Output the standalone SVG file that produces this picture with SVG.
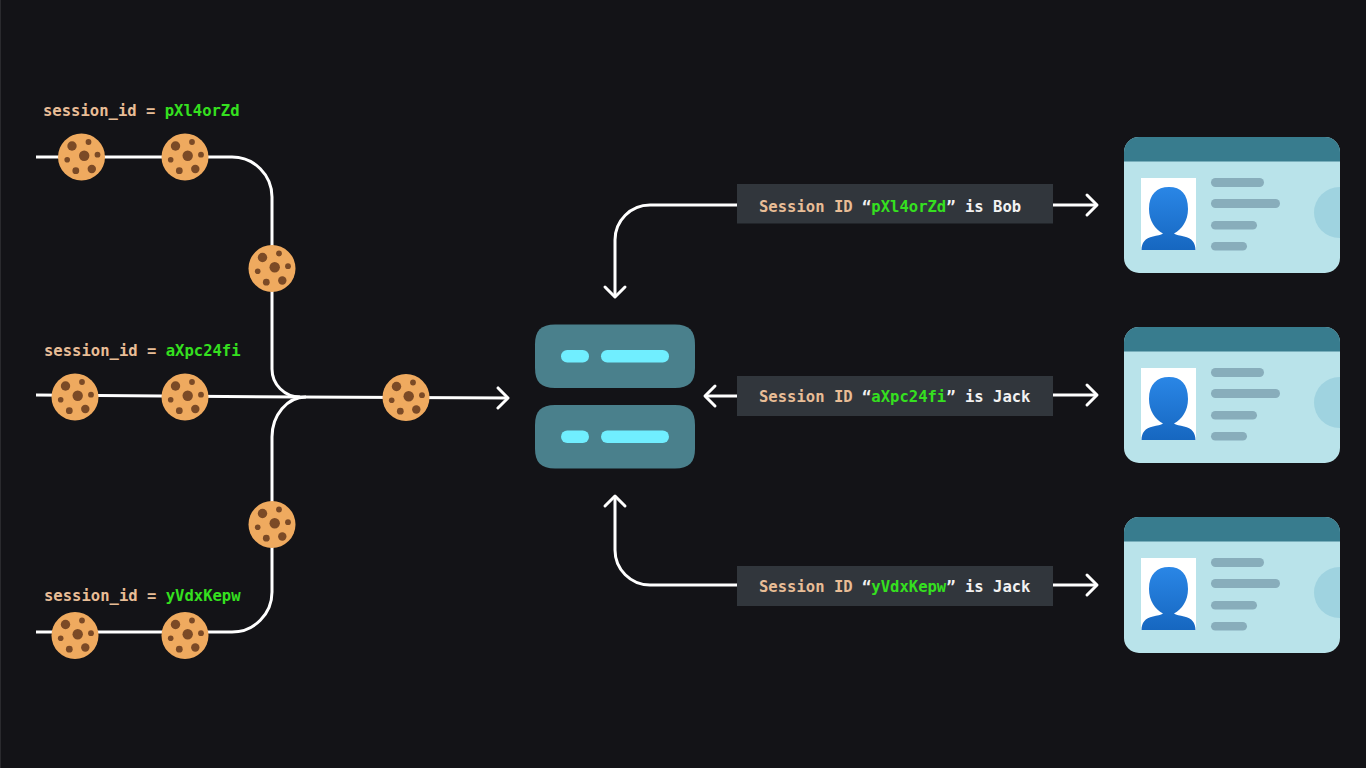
<svg xmlns="http://www.w3.org/2000/svg" width="1366" height="768" viewBox="0 0 1366 768">
<style>
text{font-family:"DejaVu Sans Mono","Liberation Mono",monospace;font-weight:700;font-size:15.55px}
.k{fill:#e8bd96}.g{fill:#35e01f}.w{fill:#f2f2f2}
.ln{fill:none;stroke:#fff;stroke-width:3}
.lb{fill:#31363c}
</style>
<defs>
<marker id="ah" markerUnits="userSpaceOnUse" markerWidth="26" markerHeight="26" refX="15" refY="13" orient="auto">
<path d="M5 3L15 13L5 23" fill="none" stroke="#fff" stroke-width="3" stroke-linecap="round" stroke-linejoin="round"/>
</marker>
<g id="cookie">
<circle r="23.5" fill="#efaa5f"/>
<g fill="#7b4a26">
<circle cx="-9.5" cy="-11" r="4.700"/><circle cx="7" cy="-15" r="2.900"/><circle cx="2.700" cy="-1.300" r="5.200"/><circle cx="16" cy="-2.300" r="2.900"/><circle cx="-14.300" cy="2.700" r="2.800"/><circle cx="-5.700" cy="13.700" r="3.400"/><circle cx="10.300" cy="12" r="4.200"/>
</g>
</g>
<clipPath id="cc"><rect width="216" height="136" rx="15"/></clipPath>
<linearGradient id="pg" x1="0" y1="0" x2="0" y2="1"><stop offset="0" stop-color="#2a86e6"/><stop offset="1" stop-color="#1667c0"/></linearGradient>
<g id="card">
<g clip-path="url(#cc)">
<rect width="216" height="136" fill="#b9e3ea"/>
<rect width="216" height="24.500" fill="#387c8e"/>
<circle cx="215.500" cy="75.500" r="25.500" fill="#9fd3e0"/>
</g>
<rect x="17" y="41" width="55" height="72" fill="#fff"/>
<path d="M45 50C33 50 25 57 25 72C25 84 31 92 39 96.500C37 98 33 98.500 29 99.500C21 101 17.500 106 17.500 113H71.500C71.500 106 68 101 60 99.500C56 98.500 52 98 50 96.500C58 92 64 84 64 72C64 57 57 50 45 50Z" fill="url(#pg)"/>
<g fill="#88adbb">
<rect x="87" y="41" width="53" height="9" rx="4.500"/><rect x="87" y="62" width="69" height="9" rx="4.500"/><rect x="87" y="84" width="46" height="8.500" rx="4.250"/><rect x="87" y="105" width="36" height="8.500" rx="4.250"/>
</g>
</g>
<g id="srv">
<path d="M20 0H140C154 0 160 6 160 20V43.500C160 57.500 154 63.500 140 63.500H20C6 63.500 0 57.500 0 43.500V20C0 6 6 0 20 0Z" fill="#4a808c"/>
<rect x="26" y="25.500" width="28" height="12.500" rx="6.250" fill="#70eeff"/>
<rect x="66" y="25.500" width="68" height="12.500" rx="6.250" fill="#70eeff"/>
</g>
</defs>
<rect width="1366" height="768" fill="#131317"/>
<rect width="1" height="768" fill="#2a2a2e"/>
<g id="connectors">
<path class="ln" d="M36 157H232A40 40 0 0 1 272 197V369A28 28 0 0 0 300 397"/>
<path class="ln" d="M36 632H232A40 40 0 0 0 272 592V437A34 40 0 0 1 306 397"/>
<path class="ln" d="M36 395L300 397L508 398" marker-end="url(#ah)"/>
<path class="ln" d="M737 205H650A35 35 0 0 0 615 240V297" marker-end="url(#ah)"/>
<path class="ln" d="M737 396H705" marker-end="url(#ah)"/>
<path class="ln" d="M737 585H650A35 35 0 0 1 615 550V496" marker-end="url(#ah)"/>
<path class="ln" d="M1053 205H1097" marker-end="url(#ah)"/>
<path class="ln" d="M1053 395H1097" marker-end="url(#ah)"/>
<path class="ln" d="M1053 585H1097" marker-end="url(#ah)"/>
</g>
<g id="cookies">
<use href="#cookie" x="81.500" y="157"/><use href="#cookie" x="185" y="157"/>
<use href="#cookie" x="272" y="268.500"/>
<use href="#cookie" x="75" y="397"/><use href="#cookie" x="185" y="397"/>
<use href="#cookie" x="406" y="397.500"/>
<use href="#cookie" x="272" y="524.500"/>
<use href="#cookie" x="75" y="635.500"/><use href="#cookie" x="185" y="635.500"/>
</g>
<g id="client-labels">
<text x="43" y="116" class="k">session_id = <tspan class="g">pXl4orZd</tspan></text>
<text x="44" y="356" class="k">session_id = <tspan class="g">aXpc24fi</tspan></text>
<text x="44" y="601" class="k">session_id = <tspan class="g">yVdxKepw</tspan></text>
</g>
<g id="server"><use href="#srv" x="535" y="324.500"/><use href="#srv" x="535" y="405"/></g>
<g id="label-bob"><rect class="lb" x="737" y="184" width="316" height="39.500"/><text x="759" y="211.500" class="k">Session ID <tspan class="w">“</tspan><tspan class="g">pXl4orZd</tspan><tspan class="w">” is Bob</tspan></text></g>
<g id="label-jack-1"><rect class="lb" x="737" y="376" width="316" height="40"/><text x="759" y="402" class="k">Session ID <tspan class="w">“</tspan><tspan class="g">aXpc24fi</tspan><tspan class="w">” is Jack</tspan></text></g>
<g id="label-jack-2"><rect class="lb" x="737" y="566" width="316" height="40"/><text x="759" y="592" class="k">Session ID <tspan class="w">“</tspan><tspan class="g">yVdxKepw</tspan><tspan class="w">” is Jack</tspan></text></g>
<g id="card-1"><use href="#card" x="1124" y="137"/></g>
<g id="card-2"><use href="#card" x="1124" y="327"/></g>
<g id="card-3"><use href="#card" x="1124" y="517"/></g>
</svg>
